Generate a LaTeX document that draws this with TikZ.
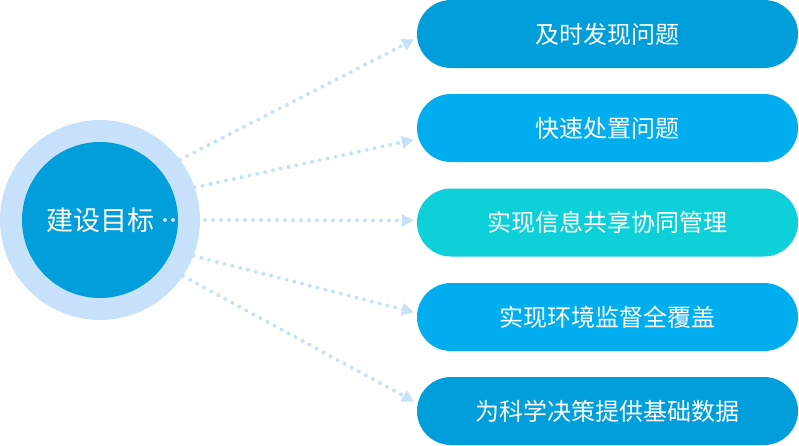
\documentclass[tikz,border=0pt]{standalone}
\usepackage{fontspec}
\setmainfont{Noto Sans CJK SC}
\usepackage{xcolor}
\usetikzlibrary{arrows.meta}

\definecolor{goalblue}{RGB}{0,158,218}
\definecolor{skyblue}{RGB}{0,174,239}
\definecolor{tealblue}{RGB}{14,208,216}
\definecolor{ringblue}{RGB}{200,225,250}

\begin{document}
\begin{tikzpicture}[x=1pt,y=-1pt,
    pill/.style={rounded corners=34pt, minimum width=381pt, minimum height=68pt,
        inner sep=0pt, text=white, font=\fontsize{24}{28}\selectfont},
    link/.style={ringblue, line width=4pt, line cap=round, dash pattern=on 0pt off 8pt,
        -{Triangle[length=12pt,width=12pt]}, shorten >=3pt}]
    \useasboundingbox (0,0) rectangle (799,445);

    % centre disk with light ring
    \node[circle, fill=ringblue, minimum size=200pt] (ring) at (100,220) {};
    \node[circle, fill=goalblue, minimum size=156pt, text=white,
        font=\fontsize{27}{31}\selectfont] (goal) at (100,220) {建设目标};

    % goal pills
    \node[pill, fill=goalblue] (p1) at (607.5,34) {及时发现问题};
    \node[pill, fill=skyblue] (p2) at (607.5,128) {快速处置问题};
    \node[pill, fill=tealblue] (p3) at (607.5,222.5) {实现信息共享协同管理};
    \node[pill, fill=skyblue] (p4) at (607.5,317) {实现环境监督全覆盖};
    \node[pill, fill=goalblue] (p5) at (607.5,411) {为科学决策提供基础数据};

    % dotted links
    \coordinate (mid) at (165,220);
    \draw[link] (ring.37) -- ([yshift=-4pt]p1.west);
    \draw[link] (ring.19) -- ([yshift=-11pt]p2.west);
    \draw[link] (mid) -- ([yshift=2pt]p3.west);
    \draw[link] (ring.-21) -- ([yshift=4pt]p4.west);
    \draw[link] (ring.-34) -- ([yshift=8pt]p5.west);
\end{tikzpicture}
\end{document}
